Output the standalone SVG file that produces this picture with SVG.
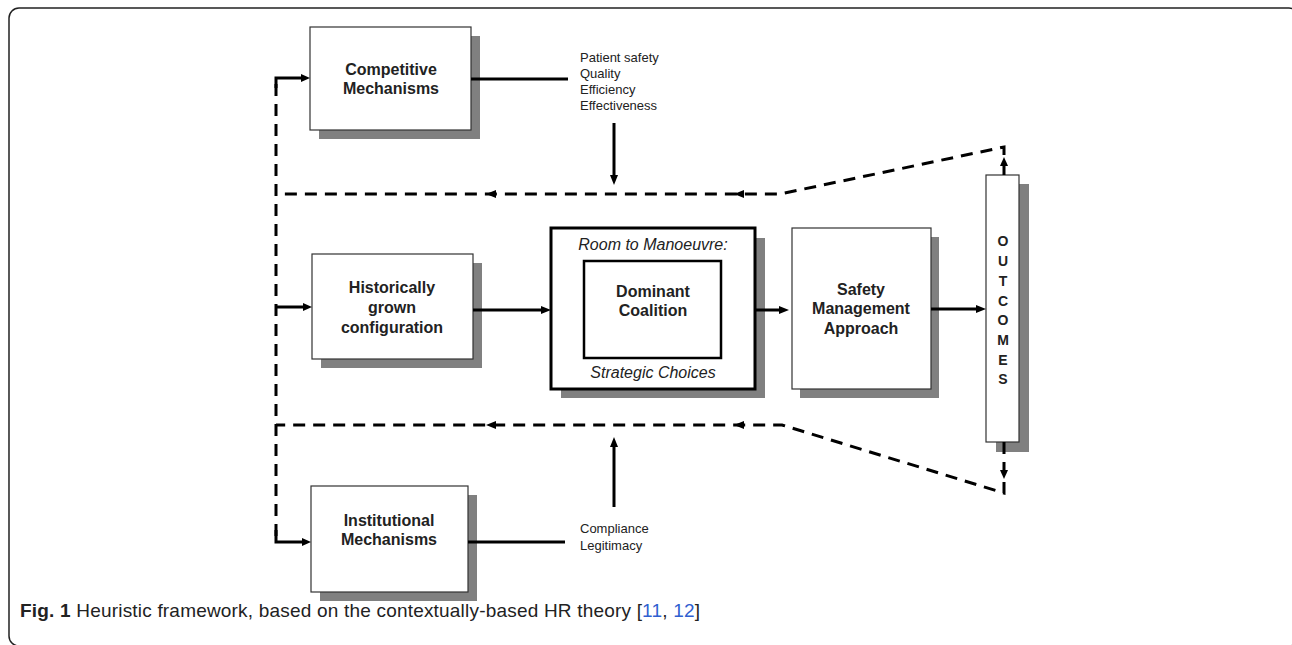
<svg xmlns="http://www.w3.org/2000/svg" width="1292" height="645" viewBox="0 0 1292 645">
<style>
.box{fill:#fff;stroke:#333;stroke-width:1.2}
.shadow{fill:#808080}
.title{font-family:"Liberation Sans",Arial,sans-serif;font-weight:bold;font-size:16px;fill:#222;text-anchor:middle}
.ital{font-family:"Liberation Sans",Arial,sans-serif;font-style:italic;font-size:16px;fill:#222;text-anchor:middle}
.small{font-family:"Liberation Sans",Arial,sans-serif;font-size:13px;fill:#222}
.letter{font-family:"Liberation Sans",Arial,sans-serif;font-weight:bold;font-size:14px;fill:#222;text-anchor:middle}
.solid{fill:none;stroke:#000;stroke-width:3}
.dash{fill:none;stroke:#000;stroke-width:3;stroke-dasharray:12 8}
.head{fill:#000}
.cap{font-family:"Liberation Sans",Arial,sans-serif;font-size:19px;fill:#222}
</style>
<rect x="9" y="8" width="1290" height="638" rx="10" fill="none" stroke="#222" stroke-width="1.5"/>

<g id="competitive">
<rect class="shadow" x="319" y="36" width="161" height="103"/>
<rect class="box" x="310" y="27" width="161" height="103"/>
<text class="title" x="391" y="75">Competitive</text>
<text class="title" x="391" y="94">Mechanisms</text>
</g>

<g id="competitive-factors">
<text class="small" x="580" y="62">Patient safety</text>
<text class="small" x="580" y="78">Quality</text>
<text class="small" x="580" y="94">Efficiency</text>
<text class="small" x="580" y="110">Effectiveness</text>
</g>

<g id="historical">
<rect class="shadow" x="321" y="263" width="161" height="105"/>
<rect class="box" x="312" y="254" width="161" height="105"/>
<text class="title" x="392" y="293">Historically</text>
<text class="title" x="392" y="313">grown</text>
<text class="title" x="392" y="333">configuration</text>
</g>

<g id="room">
<rect class="shadow" x="561" y="238" width="204" height="160"/>
<rect x="551" y="228" width="204" height="161" fill="#fff" stroke="#000" stroke-width="3"/>
<text class="ital" x="653" y="250">Room to Manoeuvre:</text>
<text class="ital" x="653" y="378">Strategic Choices</text>
</g>

<g id="dominant">
<rect x="584" y="261" width="137" height="97" fill="#fff" stroke="#000" stroke-width="2.5"/>
<text class="title" x="653" y="297">Dominant</text>
<text class="title" x="653" y="316">Coalition</text>
</g>

<g id="safety">
<rect class="shadow" x="800" y="237" width="139" height="161"/>
<rect class="box" x="792" y="228" width="139" height="161"/>
<text class="title" x="861" y="295">Safety</text>
<text class="title" x="861" y="314">Management</text>
<text class="title" x="861" y="334">Approach</text>
</g>

<g id="outcomes">
<rect class="shadow" x="996" y="184" width="33" height="268"/>
<rect class="box" x="986" y="175" width="33" height="267"/>
<text class="letter" x="1003" y="246">O</text>
<text class="letter" x="1003" y="266">U</text>
<text class="letter" x="1003" y="286">T</text>
<text class="letter" x="1003" y="306">C</text>
<text class="letter" x="1003" y="325">O</text>
<text class="letter" x="1003" y="345">M</text>
<text class="letter" x="1003" y="365">E</text>
<text class="letter" x="1003" y="384">S</text>
</g>

<g id="institutional">
<rect class="shadow" x="320" y="495" width="157" height="106"/>
<rect class="box" x="311" y="486" width="157" height="106"/>
<text class="title" x="389" y="526">Institutional</text>
<text class="title" x="389" y="545">Mechanisms</text>
</g>

<g id="institutional-factors">
<text class="small" x="580" y="533">Compliance</text>
<text class="small" x="580" y="550">Legitimacy</text>
</g>

<g id="connectors">
<path class="dash" d="M276 84 L276 542"/>
<path class="solid" d="M276 88 L276 78 L302 78"/>
<polygon class="head" points="310,78 301,74 301,82"/>
<path class="solid" d="M276 307 L304 307"/>
<polygon class="head" points="312,307 303,303 303,311"/>
<path class="solid" d="M276 530 L276 542 L303 542"/>
<polygon class="head" points="311,542 302,538 302,546"/>
<path class="solid" d="M471 79 L568 79"/>
<path class="solid" d="M614 123 L614 176"/>
<polygon class="head" points="614,185 610,175 618,175"/>
<path class="solid" d="M468 542 L565 542"/>
<path class="solid" d="M614 507 L614 446"/>
<polygon class="head" points="614,437 610,447 618,447"/>
<path class="solid" d="M473 310 L542 310"/>
<polygon class="head" points="551,310 541,306 541,314"/>
<path class="solid" d="M755 310 L780 310"/>
<polygon class="head" points="789,310 779,306 779,314"/>
<path class="solid" d="M931 309 L977 309"/>
<polygon class="head" points="986,309 976,305 976,313"/>
<path class="dash" d="M1004 175 L1004 147 L780 194 L276 194"/>
<polygon class="head" points="1004,157 1000,166 1008,166"/>
<polygon class="head" points="734,194 744,190 744,198"/>
<polygon class="head" points="486,194 496,190 496,198"/>
<path class="dash" d="M1004 442 L1004 493 L782 425 L276 425"/>
<polygon class="head" points="1004,479 1000,470 1008,470"/>
<polygon class="head" points="734,425 744,421 744,429"/>
<polygon class="head" points="486,425 496,421 496,429"/>
</g>

<text class="cap" x="20" y="617" textLength="680" lengthAdjust="spacing"><tspan font-weight="bold">Fig. 1</tspan> Heuristic framework, based on the contextually-based HR theory [<tspan fill="#2f5fd0">11</tspan>, <tspan fill="#2f5fd0">12</tspan>]</text>
</svg>
